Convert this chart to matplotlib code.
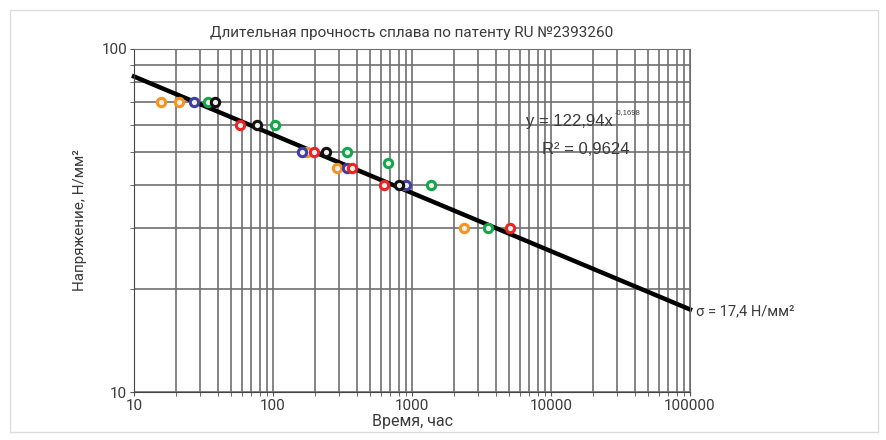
import numpy as np
import matplotlib.pyplot as plt
from matplotlib.ticker import LogLocator, FixedLocator, NullFormatter, FixedFormatter
from matplotlib.patches import Rectangle

# test points: time (h), stress (N/mm2), colour group
t_orange = [15.7, 20.9, 176, 291, 890, 2384]
s_orange = [70, 70, 50, 45, 40, 30]
t_blue = [26.8, 162, 338, 900]
s_blue = [70, 50, 45, 40]
t_green = [33.8, 103, 338, 670, 1374, 3494]
s_green = [70, 60, 50, 46.5, 40, 30]
t_black = [38, 76.5, 242, 805]
s_black = [70, 60, 50, 40]
t_red = [57.6, 198, 373, 627, 5047]
s_red = [60, 50, 45, 40, 30]

a_fit = 122.94
b_fit = -0.1698
t_fit = np.array([10, 100000])

title = "Длительная прочность сплава по патенту RU №2393260"
narrow = ['Roboto', 'DejaVu Sans']
txtc = '#3a3a3a'

fig = plt.figure(figsize=(8.86, 4.4), dpi=100)
fig.patches.append(Rectangle((10/886, 8/440), 868/886, 422/440, transform=fig.transFigure,
                             fill=False, edgecolor='#dcdcdc', lw=1))
ax = fig.add_axes([134/886, 48/440, 556/886, 343/440])
ax.set_xscale('log')
ax.set_yscale('log')
ax.set_xlim(10, 100000)
ax.set_ylim(10, 100)

ax.grid(True, which='both', color='#707070', lw=1.2)
ax.set_axisbelow(True)

ax.plot(t_fit, a_fit * t_fit ** b_fit, color='black', lw=3.2, zorder=2, clip_on=False)

groups = [(t_orange, s_orange, '#f7941d'), (t_blue, s_blue, '#3f3f9f'),
          (t_green, s_green, '#12a84a'), (t_black, s_black, '#111111'),
          (t_red, s_red, '#ee2222')]
for tt, ss, c in groups:
    ax.plot(tt, ss, 'o', ms=6, mfc='#f0f0f0', mec=c, mew=2.2, ls='none', zorder=3)

ax.xaxis.set_major_locator(FixedLocator([10, 100, 1000, 10000, 100000]))
ax.xaxis.set_major_formatter(FixedFormatter(['10', '100', '1000', '10000', '100000']))
ax.xaxis.set_minor_locator(LogLocator(base=10, subs=np.arange(2, 10)))
ax.xaxis.set_minor_formatter(NullFormatter())
ax.yaxis.set_major_locator(FixedLocator([10, 100]))
ax.yaxis.set_major_formatter(FixedFormatter(['10', '100']))
ax.yaxis.set_minor_locator(LogLocator(base=10, subs=np.arange(2, 10)))
ax.yaxis.set_minor_formatter(NullFormatter())
ax.tick_params(which='both', length=3, color='#555555', labelsize=11, labelcolor=txtc, pad=2)
for lab in ax.get_xticklabels() + ax.get_yticklabels():
    lab.set_family(narrow)
for sp in ax.spines.values():
    sp.set_color('#707070')
ax.spines['left'].set_color('#444444')
ax.spines['bottom'].set_color('#444444')

ax.set_title(title, fontsize=11, family=narrow, color=txtc, pad=9)
ax.set_xlabel("Время, час", fontsize=11.5, family=narrow, color=txtc, labelpad=1)
ax.set_ylabel("Напряжение, Н/мм²", fontsize=11, family=narrow, color=txtc, labelpad=10)

ax.text(0.705, 0.775, "y = 122,94x", transform=ax.transAxes, fontsize=12,
        family='Liberation Sans', color=txtc)
ax.text(0.864, 0.81, "-0,1698", transform=ax.transAxes, fontsize=5.5,
        family='Liberation Sans', color=txtc)
ax.text(0.733, 0.695, "R² = 0,9624", transform=ax.transAxes, fontsize=12,
        family='Liberation Sans', color=txtc)
ax.text(1.01, 0.235, "σ = 17,4 Н/мм²", transform=ax.transAxes, fontsize=10.5,
        family=narrow, color=txtc, va='center')

fig.savefig('out.png', dpi=100)
